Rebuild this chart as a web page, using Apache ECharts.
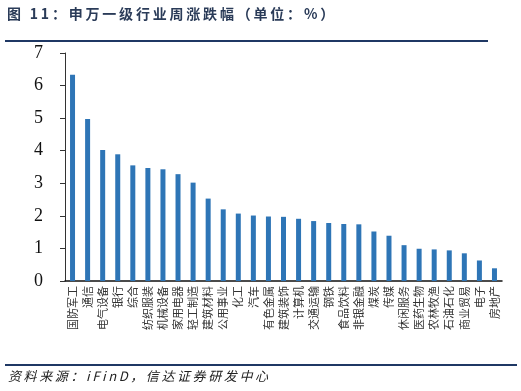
<!DOCTYPE html>
<html>
<head>
<meta charset="utf-8">
<script src="https://cdn.jsdelivr.net/npm/echarts@6/dist/echarts.min.js"></script>
<style>
  html, body { margin: 0; padding: 0; background: #fff; }
  #chart { width: 521px; height: 391px; }
</style>
</head>
<body>
<div id="chart"></div>
<script>
// 行业名称
var industries = ['国防军工', '通信', '电气设备', '银行', '综合', '纺织服装', '机械设备', '家用电器',
  '轻工制造', '建筑材料', '公用事业', '化工', '汽车', '有色金属', '建筑装饰', '计算机', '交通运输',
  '钢铁', '食品饮料', '非银金融', '煤炭', '传媒', '休闲服务', '医药生物', '农林牧渔', '石油石化',
  '商业贸易', '电子', '房地产'];
// 周涨跌幅 (%)
var weeklyChange = [6.33, 4.97, 4.02, 3.89, 3.55, 3.47, 3.43, 3.28,
  3.02, 2.53, 2.20, 2.07, 2.01, 1.98, 1.97, 1.91, 1.84,
  1.78, 1.75, 1.74, 1.52, 1.39, 1.10, 0.99, 0.97, 0.94,
  0.85, 0.63, 0.39];
var yTicks = [0, 7, 1];

var titleText = '图 11：申万一级行业周涨跌幅（单位：%）';
var sourceText = '资料来源：iFinD，信达证券研发中心';

// 字间距加宽（用细空格）
function spread(s) {
  return s.split('').join('\u2009');
}

var chart = echarts.init(document.getElementById('chart'));
chart.setOption({
  animation: false,
  graphic: [
    {
      type: 'text', left: 7, top: 7,
      style: {
        text: spread(titleText),
        fontFamily: 'Noto Sans CJK SC', fontWeight: 'bold', fontSize: 14,
        fill: '#2a3b58'
      }
    },
    { type: 'rect', shape: { x: 5, y: 40, width: 483, height: 2 }, style: { fill: '#1f3864' } },
    { type: 'rect', shape: { x: 5, y: 364, width: 512, height: 2 }, style: { fill: '#1f3864' } },
    {
      type: 'text', left: 8, top: 370,
      style: {
        text: spread(sourceText),
        fontFamily: 'Noto Sans CJK SC', fontStyle: 'italic', fontSize: 13,
        fill: '#222'
      }
    }
  ],
  grid: { left: 65, right: 19, top: 53, bottom: 110 },
  xAxis: {
    type: 'category',
    data: industries,
    axisLine: { lineStyle: { color: '#111', width: 1.5 } },
    axisTick: { show: false },
    axisLabel: {
      rotate: 90, interval: 0, margin: 5,
      fontFamily: 'Noto Sans CJK SC', fontSize: 11, color: '#333'
    }
  },
  yAxis: {
    type: 'value',
    min: yTicks[0], max: yTicks[1], interval: yTicks[2],
    splitLine: { show: false },
    axisLine: { show: true, lineStyle: { color: '#333', width: 1 } },
    axisTick: { show: true, length: 5, lineStyle: { color: '#333' } },
    axisLabel: {
      margin: 22, fontFamily: 'Liberation Serif', fontSize: 18, color: '#111'
    }
  },
  series: [{
    type: 'bar',
    data: weeklyChange,
    barWidth: 5,
    itemStyle: { color: '#2e75b6' }
  }]
});
</script>
</body>
</html>
